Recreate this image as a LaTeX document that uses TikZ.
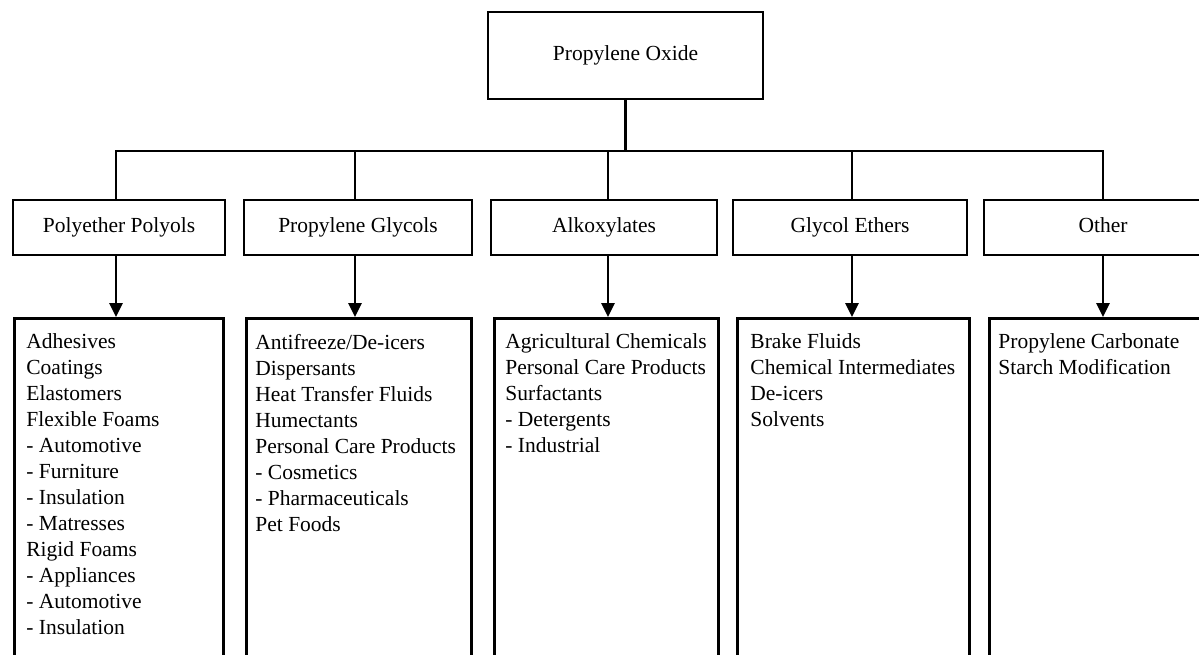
\documentclass[tikz,border=0pt]{standalone}
\usepackage{fontspec}
\setmainfont{Liberation Serif}
\usetikzlibrary{arrows.meta}
\begin{document}
\begin{tikzpicture}[x=1pt,y=-1pt, line width=2.8pt,
  txt/.style={font=\fontsize{21.5}{26}\selectfont},
  box/.style={draw, rectangle, inner sep=0pt, text height=15pt, text depth=5pt, txt},
  listbox/.style={draw, rectangle, inner sep=0pt, anchor=north west, minimum height=400pt},
  itemtext/.style={anchor=north west, align=left, inner sep=0pt, txt},
  arr/.style={-{Triangle[length=14pt,width=13pt]}}]
\useasboundingbox (0,0) rectangle (1199,654);
\clip (0,0) rectangle (1199,654);
\fill[white] (0,0) rectangle (1199,654);
% top
\node[box, minimum width=275pt, minimum height=87pt] (po) at (625.5,55.5) {Propylene Oxide};
% second row
\node[box, minimum width=212pt, minimum height=55pt] (pp) at (119,227.5) {Polyether Polyols};
\node[box, minimum width=228pt, minimum height=55pt] (pg) at (358,227.5) {Propylene Glycols};
\node[box, minimum width=226pt, minimum height=55pt] (al) at (604,227.5) {Alkoxylates};
\node[box, minimum width=234pt, minimum height=55pt] (ge) at (850,227.5) {Glycol Ethers};
\node[box, minimum width=238pt, minimum height=55pt] (ot) at (1103,227.5) {Other};
% bottom boxes
\node[listbox, minimum width=209pt] (b1) at (13,317) {};
\node[listbox, minimum width=225pt] (b2) at (245,317) {};
\node[listbox, minimum width=224pt] (b3) at (493,317) {};
\node[listbox, minimum width=232pt] (b4) at (736,317) {};
\node[listbox, minimum width=234pt] (b5) at (988,317) {};
% texts
\node[itemtext] (t1) at (25,332.5) {Adhesives\\Coatings\\Elastomers\\Flexible Foams\\- Automotive\\- Furniture\\- Insulation\\- Matresses\\Rigid Foams\\- Appliances\\- Automotive\\- Insulation};
\node[itemtext] (t2) at (254,332.5) {Antifreeze/De-icers\\Dispersants\\Heat Transfer Fluids\\Humectants\\Personal Care Products\\- Cosmetics\\- Pharmaceuticals\\Pet Foods};
\node[itemtext] (t3) at (504,332.5) {Agricultural Chemicals\\Personal Care Products\\Surfactants\\- Detergents\\- Industrial};
\node[itemtext] (t4) at (749,332.5) {Brake Fluids\\Chemical Intermediates\\De-icers\\Solvents};
\node[itemtext] (t5) at (997,332.5) {Propylene Carbonate\\Starch Modification};
% bus
\coordinate (d1) at (116,151);
\coordinate (d2) at (355,151);
\coordinate (d3) at (608,151);
\coordinate (d4) at (852,151);
\coordinate (d5) at (1103,151);
\draw (po.south) -- (po.south |- d1);
\draw[line cap=rect] (d1) -- (d5);
\draw (d1) -- (d1 |- pp.north);
\draw (d2) -- (d2 |- pg.north);
\draw (d3) -- (d3 |- al.north);
\draw (d4) -- (d4 |- ge.north);
\draw (d5) -- (d5 |- ot.north);
% arrows
\draw[arr] (d1 |- pp.south) -- (d1 |- b1.north);
\draw[arr] (d2 |- pg.south) -- (d2 |- b2.north);
\draw[arr] (d3 |- al.south) -- (d3 |- b3.north);
\draw[arr] (d4 |- ge.south) -- (d4 |- b4.north);
\draw[arr] (d5 |- ot.south) -- (d5 |- b5.north);
\end{tikzpicture}
\end{document}
